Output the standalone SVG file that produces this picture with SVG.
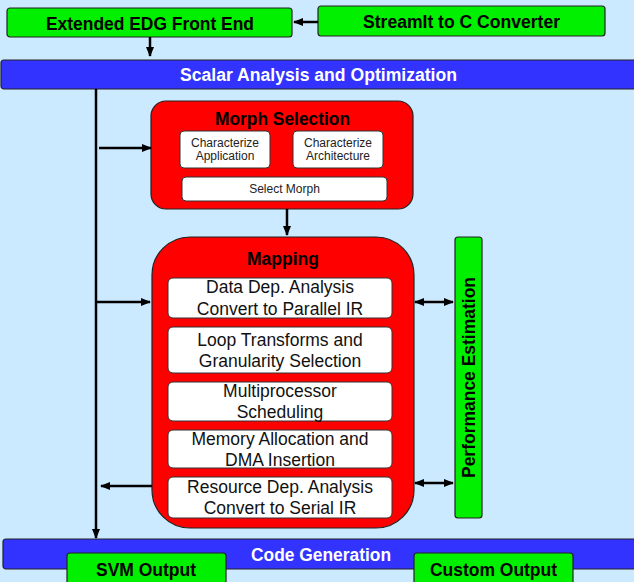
<svg xmlns="http://www.w3.org/2000/svg" width="634" height="582" viewBox="0 0 634 582">
<style>
.green{fill:#00f000;stroke:#222;stroke-width:1.2}
.blue{fill:#3333ff;stroke:#222;stroke-width:1.2}
.red{fill:#ff0000;stroke:#222;stroke-width:1.2}
.white{fill:#fff;stroke:#333;stroke-width:1}
.bt{font-family:"Liberation Sans",Arial,sans-serif;font-weight:bold;font-size:17.5px;text-anchor:middle;fill:#000}
.wt{font-family:"Liberation Sans",Arial,sans-serif;font-weight:bold;font-size:17.5px;text-anchor:middle;fill:#fff}
.st{font-family:"Liberation Sans",Arial,sans-serif;font-size:12px;text-anchor:middle;fill:#222}
.mt{font-family:"Liberation Sans",Arial,sans-serif;font-size:17.5px;text-anchor:middle;fill:#111}
.ln{stroke:#000;stroke-width:2.5;fill:none}
</style>
<defs>
<marker id="ah" viewBox="0 0 10 10" refX="9" refY="5" markerWidth="4" markerHeight="4" orient="auto-start-reverse" markerUnits="strokeWidth"><path d="M0,1 L10,5 L0,9 z" fill="#000"/></marker>
</defs>
<rect width="634" height="582" fill="#cceaff"/>
<g id="edg"><rect class="green" x="7" y="8" width="285" height="29" rx="3"/><text class="bt" x="150" y="30" textLength="208" lengthAdjust="spacingAndGlyphs">Extended EDG Front End</text></g>
<g id="streamit"><rect class="green" x="318" y="6" width="287" height="30" rx="3"/><text class="bt" x="461.5" y="28" textLength="197" lengthAdjust="spacingAndGlyphs">StreamIt to C Converter</text></g>
<g id="scalar"><rect class="blue" x="1" y="60" width="640" height="29" rx="3"/><text class="wt" x="318.5" y="81" textLength="277" lengthAdjust="spacingAndGlyphs">Scalar Analysis and Optimization</text></g>
<g id="morph">
<rect class="red" x="151" y="101" width="262" height="108" rx="15"/>
<text class="bt" x="282.5" y="125" textLength="135" lengthAdjust="spacingAndGlyphs">Morph Selection</text>
<rect class="white" x="180" y="131" width="90" height="37" rx="4"/>
<text class="st" x="225" y="147">Characterize</text><text class="st" x="225" y="160">Application</text>
<rect class="white" x="293" y="131" width="90" height="37" rx="4"/>
<text class="st" x="338" y="147">Characterize</text><text class="st" x="338" y="160">Architecture</text>
<rect class="white" x="182" y="177" width="205" height="24" rx="4"/>
<text class="st" x="284.5" y="193">Select Morph</text>
</g>
<g id="mapping">
<rect class="red" x="152" y="237" width="262" height="291" rx="38"/>
<text class="bt" x="283" y="265" textLength="72" lengthAdjust="spacingAndGlyphs">Mapping</text>
<rect class="white" x="168" y="278" width="224" height="40" rx="5"/>
<text class="mt" x="280" y="293">Data Dep. Analysis</text><text class="mt" x="280" y="315">Convert to Parallel IR</text>
<rect class="white" x="168" y="327" width="224" height="46" rx="5"/>
<text class="mt" x="280" y="346">Loop Transforms and</text><text class="mt" x="280" y="367">Granularity Selection</text>
<rect class="white" x="168" y="382" width="224" height="39" rx="5"/>
<text class="mt" x="280" y="397">Multiprocessor</text><text class="mt" x="280" y="418">Scheduling</text>
<rect class="white" x="168" y="430" width="224" height="38" rx="5"/>
<text class="mt" x="280" y="445">Memory Allocation and</text><text class="mt" x="280" y="466">DMA Insertion</text>
<rect class="white" x="168" y="477" width="224" height="41" rx="5"/>
<text class="mt" x="280" y="493">Resource Dep. Analysis</text><text class="mt" x="280" y="514">Convert to Serial IR</text>
</g>
<g id="perf"><rect class="green" x="455" y="237" width="27" height="281" rx="3"/><text class="bt" transform="translate(474.5,377.5) rotate(-90)" textLength="201" lengthAdjust="spacingAndGlyphs">Performance Estimation</text></g>
<g id="codegen"><rect class="blue" x="3" y="539" width="640" height="30" rx="3"/><text class="wt" x="321" y="561" textLength="140" lengthAdjust="spacingAndGlyphs">Code Generation</text></g>
<g id="svm"><rect class="green" x="67" y="553" width="159" height="40" rx="3"/><text class="bt" x="146" y="576" textLength="100" lengthAdjust="spacingAndGlyphs">SVM Output</text></g>
<g id="custom"><rect class="green" x="414" y="553" width="159" height="40" rx="3"/><text class="bt" x="493.5" y="576" textLength="127" lengthAdjust="spacingAndGlyphs">Custom Output</text></g>
<g id="connectors">
<line class="ln" x1="318" y1="22" x2="294" y2="22" marker-end="url(#ah)"/>
<line class="ln" x1="150" y1="37" x2="150" y2="56" marker-end="url(#ah)"/>
<line class="ln" x1="96" y1="89" x2="96" y2="538" marker-end="url(#ah)"/>
<line class="ln" x1="99" y1="148" x2="151" y2="148" marker-end="url(#ah)"/>
<line class="ln" x1="96" y1="302" x2="150" y2="302" marker-end="url(#ah)"/>
<line class="ln" x1="152" y1="486" x2="101" y2="486" marker-end="url(#ah)"/>
<line class="ln" x1="287" y1="209" x2="287" y2="235" marker-end="url(#ah)"/>
<line class="ln" x1="415" y1="302" x2="453" y2="302" marker-start="url(#ah)" marker-end="url(#ah)"/>
<line class="ln" x1="415" y1="483" x2="453" y2="483" marker-start="url(#ah)" marker-end="url(#ah)"/>
</g>
</svg>
